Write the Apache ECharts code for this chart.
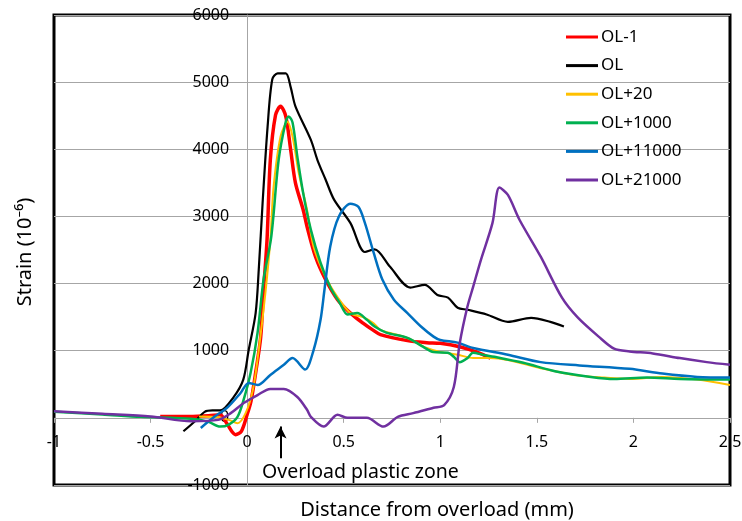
<!DOCTYPE html>
<html>
<head>
<meta charset="utf-8">
<script src="https://cdn.jsdelivr.net/npm/echarts@6/dist/echarts.min.js"></script>
<style>
  html, body { margin: 0; padding: 0; background: #fff; }
  #chart { width: 742px; height: 521px; }
</style>
</head>
<body>
<div id="chart"></div>
<script>
// 数据：[距离 mm, 应变 10^-6]
var seriesNames = ['OL-1', 'OL', 'OL+20', 'OL+1000', 'OL+11000', 'OL+21000'];
var seriesColors = ['#ff0000', '#000000', '#ffc000', '#00b050', '#0070c0', '#7030a0'];
var seriesWidths = [3.5, 2.2, 2, 2.5, 2.5, 2.5];

var xTicks = [-1, -0.5, 0, 0.5, 1, 1.5, 2, 2.5];
var yTicks = [-1000, 0, 1000, 2000, 3000, 4000, 5000, 6000];

var ol1 = [[-0.45, 20], [-0.3, 20], [-0.2, 30], [-0.14, 45], [-0.11, -60], [-0.08, -200], [-0.06, -250],
  [-0.03, -200], [0.0, 50], [0.02, 250], [0.044, 670], [0.07, 1200], [0.085, 1900], [0.103, 2650],
  [0.12, 3840], [0.147, 4510], [0.173, 4640], [0.2, 4490], [0.225, 4000], [0.25, 3500], [0.29, 3100],
  [0.31, 2850], [0.354, 2400], [0.406, 2060], [0.468, 1760], [0.535, 1560], [0.6, 1410], [0.65, 1310],
  [0.69, 1240], [0.83, 1150], [0.93, 1120], [1.0, 1110], [1.1, 1060], [1.19, 980], [1.26, 890]];

var ol = [[-0.33, -200], [-0.27, -50], [-0.22, 90], [-0.18, 110], [-0.14, 110], [-0.07, 310], [-0.02, 570],
  [0.008, 1010], [0.044, 1560], [0.06, 2200], [0.08, 3200], [0.106, 4340], [0.13, 5040], [0.158, 5130],
  [0.2, 5130], [0.225, 4930], [0.25, 4640], [0.33, 4140], [0.364, 3840], [0.406, 3550], [0.45, 3250],
  [0.535, 2900], [0.61, 2470], [0.66, 2510], [0.74, 2250], [0.845, 1940], [0.92, 1980], [0.985, 1830],
  [1.04, 1790], [1.09, 1640], [1.14, 1610], [1.24, 1540], [1.35, 1430], [1.47, 1490], [1.57, 1430], [1.64, 1360]];

var ol20 = [[-0.25, 20], [-0.15, 10], [-0.095, -30], [-0.05, -80], [-0.008, 70], [0.03, 420], [0.06, 1010],
  [0.096, 1900], [0.12, 2650], [0.137, 3440], [0.173, 4190], [0.209, 4410], [0.235, 4190], [0.267, 3650],
  [0.31, 3100], [0.344, 2550], [0.406, 2100], [0.468, 1800], [0.535, 1560], [0.6, 1500], [0.655, 1410],
  [0.69, 1310], [0.83, 1190], [0.93, 1040], [1.0, 980], [1.09, 940], [1.17, 890], [1.26, 890], [1.35, 860],
  [1.52, 740], [1.69, 640], [1.85, 600], [1.98, 580], [2.15, 610], [2.33, 570], [2.5, 490]];

var ol1000 = [[-1, 90], [-0.75, 50], [-0.55, 15], [-0.29, -15], [-0.2, -60], [-0.14, -130], [-0.095, -100],
  [-0.05, 15], [-0.018, 270], [0.018, 670], [0.054, 1270], [0.085, 2060], [0.125, 2700], [0.163, 3840],
  [0.2, 4410], [0.215, 4490], [0.235, 4400], [0.26, 3890], [0.29, 3350], [0.33, 2800], [0.38, 2310],
  [0.43, 1950], [0.48, 1710], [0.52, 1540], [0.57, 1560], [0.62, 1460], [0.66, 1360], [0.72, 1270],
  [0.83, 1190], [0.91, 1060], [0.965, 980], [1.04, 970], [1.07, 910], [1.1, 830], [1.14, 890], [1.17, 970],
  [1.22, 940], [1.28, 910], [1.43, 820], [1.6, 690], [1.78, 610], [1.9, 580], [2.07, 600], [2.24, 580], [2.5, 570]];

var ol11000 = [[-0.24, -150], [-0.17, 15], [-0.1, 160], [-0.034, 370], [0.008, 520], [0.054, 490], [0.12, 640],
  [0.19, 790], [0.235, 890], [0.3, 720], [0.344, 1010], [0.38, 1460], [0.4, 1900], [0.43, 2550], [0.475, 3000],
  [0.535, 3190], [0.577, 3140], [0.61, 2900], [0.655, 2460], [0.7, 2060], [0.76, 1760], [0.83, 1560], [0.9, 1360],
  [0.965, 1210], [1.0, 1160], [1.09, 1120], [1.17, 1040], [1.35, 940], [1.52, 830], [1.72, 780], [1.98, 730],
  [2.15, 660], [2.33, 610], [2.5, 600]];

var ol21000 = [[-1, 100], [-0.75, 60], [-0.5, 20], [-0.29, -50], [-0.15, -30], [-0.085, 70], [-0.018, 220],
  [0.054, 340], [0.12, 430], [0.19, 430], [0.26, 310], [0.31, 120], [0.33, 15], [0.396, -130], [0.468, 45],
  [0.52, 0], [0.62, 0], [0.706, -130], [0.78, 15], [0.86, 70], [0.965, 150], [1.02, 190], [1.07, 460],
  [1.1, 1100], [1.14, 1650], [1.17, 1950], [1.21, 2350], [1.27, 2900], [1.306, 3430], [1.35, 3320],
  [1.41, 2950], [1.52, 2400], [1.63, 1790], [1.71, 1500], [1.82, 1210], [1.9, 1030], [1.98, 990],
  [2.1, 960], [2.24, 890], [2.38, 830], [2.5, 790]];

var allData = [ol1, ol, ol20, ol1000, ol11000, ol21000];

// 箭头位置（数据坐标）
var arrowX = 0.173;
var arrowFrom = -600;
var arrowTo = -130;

var font = '"Noto Sans", "Open Sans", sans-serif';

// 网格尺寸，用来把坐标轴放到 0 的位置
var W = 742, H = 521;
var gLeft = 54, gRight = 12, gTop = 15, gBottom = 36;
var gW = W - gLeft - gRight, gH = H - gTop - gBottom;
var xMin = xTicks[0], xMax = xTicks[xTicks.length - 1];
var yMin = yTicks[0], yMax = yTicks[yTicks.length - 1];
var yAxisOffset = -gW * (0 - xMin) / (xMax - xMin);
var xAxisOffset = -gH * (0 - yMin) / (yMax - yMin);

var chart = echarts.init(document.getElementById('chart'));

var series = [];
for (var i = 0; i < seriesNames.length; i++) {
  series.push({
    name: seriesNames[i],
    type: 'line',
    data: allData[i],
    smooth: 0.3,
    showSymbol: false,
    symbol: 'none',
    lineStyle: { color: seriesColors[i], width: seriesWidths[i] },
    itemStyle: { color: seriesColors[i] }
  });
}
// 塑性区箭头
series[1].markLine = {
  silent: true,
  symbol: ['none', 'arrow'],
  symbolSize: [9, 12],
  label: { show: false },
  lineStyle: { color: '#000', width: 2, type: 'solid' },
  data: [[{ coord: [arrowX, arrowFrom] }, { coord: [arrowX, arrowTo] }]]
};

chart.setOption({
  animation: false,
  backgroundColor: '#fff',
  textStyle: { fontFamily: font },
  grid: {
    left: gLeft, right: gRight, top: gTop, bottom: gBottom,
    outerBoundsMode: 'none',
    containLabel: false,
    show: true, borderColor: '#000', borderWidth: 3
  },
  legend: {
    orient: 'vertical',
    left: 566,
    top: 27,
    padding: 0,
    icon: 'rect',
    itemWidth: 32,
    itemHeight: 3,
    itemGap: 8.6,
    textStyle: { fontSize: 17, color: '#000', lineHeight: 20, padding: [0, 0, 0, -2] },
    data: seriesNames
  },
  xAxis: {
    type: 'value',
    position: 'bottom',
    offset: xAxisOffset,
    min: xMin,
    max: xMax,
    interval: 0.5,
    axisLine: { show: false, onZero: false },
    axisTick: { show: true, length: 5, lineStyle: { color: '#a6a6a6' } },
    axisLabel: { color: '#000', fontSize: 16, margin: 17 },
    splitLine: { show: false }
  },
  yAxis: {
    type: 'value',
    position: 'left',
    offset: yAxisOffset,
    min: yMin,
    max: yMax,
    interval: 1000,
    axisLine: { show: true, onZero: false, lineStyle: { color: '#a6a6a6', width: 1 } },
    axisTick: { show: false },
    axisLabel: { color: '#000', fontSize: 16, margin: 18, formatter: function (v) { return String(v); } },
    splitLine: { show: true, lineStyle: { color: '#a6a6a6', width: 1 } }
  },
  graphic: [
    {
      type: 'text', x: 25, y: 252, rotation: Math.PI / 2,
      style: { text: 'Strain (10⁻⁶)', font: '20px ' + font, fill: '#000', align: 'center', verticalAlign: 'middle' }
    },
    {
      type: 'text', x: 437, y: 510,
      style: { text: 'Distance from overload (mm)', font: '20px ' + font, fill: '#000', align: 'center', verticalAlign: 'middle' }
    },
    {
      type: 'text', x: 262, y: 472,
      style: { text: 'Overload plastic zone', font: '19.5px ' + font, fill: '#000', align: 'left', verticalAlign: 'middle' }
    }
  ],
  series: series
});
</script>
</body>
</html>
